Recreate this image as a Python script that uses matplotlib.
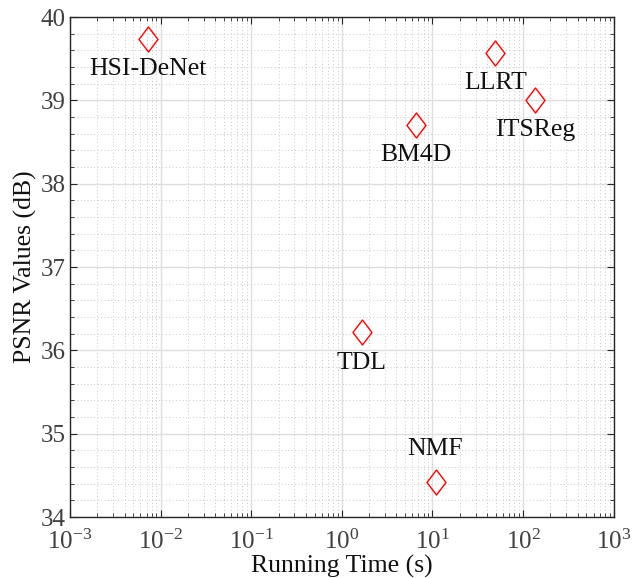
import numpy as np
import matplotlib
matplotlib.use("Agg")
import matplotlib.pyplot as plt
from matplotlib.path import Path
from matplotlib.ticker import LogLocator, MultipleLocator, NullFormatter

# data
methods = ["HSI-DeNet", "LLRT", "ITSReg", "BM4D", "TDL", "NMF"]
run_time = [0.0072, 49.3, 135.0, 6.64, 1.67, 10.8]
psnr = [39.74, 39.57, 39.01, 38.71, 36.22, 34.42]
# label goes below the marker except for NMF (above)
label_below = [True, True, True, True, True, False]

plt.rcParams['font.family'] = ['Liberation Serif', 'DejaVu Serif']
plt.rcParams['mathtext.fontset'] = 'custom'
plt.rcParams['mathtext.rm'] = 'Liberation Serif'
plt.rcParams['mathtext.it'] = 'Liberation Serif:italic'

# MATLAB-like diamond (a bit taller than wide)
diamond = Path([(0, 1), (0.76, 0), (0, -1), (-0.76, 0), (0, 1)],
               [Path.MOVETO, Path.LINETO, Path.LINETO, Path.LINETO, Path.CLOSEPOLY])

fig = plt.figure(figsize=(6.36, 5.78), dpi=100)
ax = fig.add_axes([0.110, 0.1055, 0.855, 0.865])

ax.plot(run_time, psnr, linestyle='none', marker=diamond, markersize=18,
        markerfacecolor='none', markeredgecolor='#ff0000', markeredgewidth=1.0, zorder=5)

for name, x, y, below in zip(methods, run_time, psnr, label_below):
    dy = -22 if below else 24
    ax.annotate(name, (x, y), xytext=(0, dy), textcoords='offset points',
                ha='center', va='center', fontsize=18.5, color='#111111')

ax.set_xscale('log')
ax.set_xlim(1e-3, 1e3)
ax.set_ylim(34, 40)
ax.set_xticks([1e-3, 1e-2, 1e-1, 1e0, 1e1, 1e2, 1e3])
ax.set_xticklabels([r'$10^{%d}$' % p for p in range(-3, 4)])
ax.xaxis.set_minor_locator(LogLocator(base=10, subs=np.arange(2, 10)))
ax.xaxis.set_minor_formatter(NullFormatter())
ax.yaxis.set_major_locator(MultipleLocator(1))
ax.yaxis.set_minor_locator(MultipleLocator(0.2))

ax.grid(which='major', color='#dedede', linestyle='-', linewidth=1.0)
ax.grid(which='minor', color='#c8c8c8', linestyle=(0, (1, 2.5)), linewidth=0.7)
ax.set_axisbelow(True)

ax.tick_params(which='both', direction='in', top=True, right=True,
               colors='#262626', labelcolor='#404040', labelsize=18)
ax.tick_params(axis='x', which='major', pad=9)
ax.tick_params(axis='y', which='major', pad=3)
ax.tick_params(which='major', length=5, width=0.8)
ax.tick_params(which='minor', length=3, width=0.6)
for s in ax.spines.values():
    s.set_color('#262626')
    s.set_linewidth(1.0)

ax.set_xlabel('Running Time (s)', fontsize=18.5, color='#111111', labelpad=1)
ax.set_ylabel('PSNR Values (dB)', fontsize=18.5, color='#111111', labelpad=3)

fig.savefig('out.png', dpi=100)
